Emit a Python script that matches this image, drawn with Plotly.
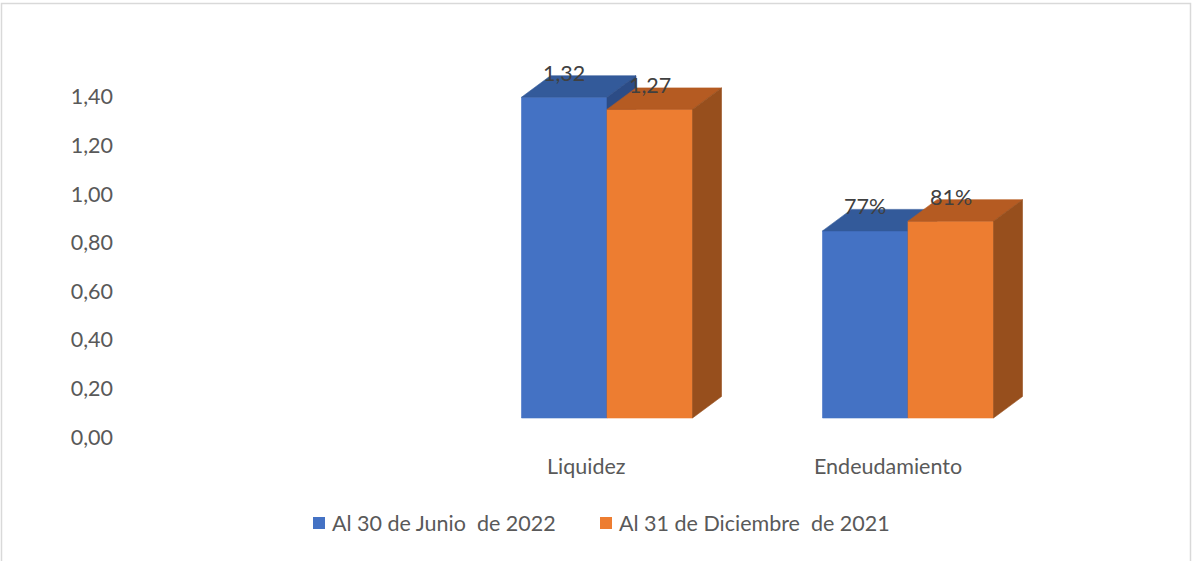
import plotly.graph_objects as go

# data
categories = ["Liquidez", "Endeudamiento"]
series_names = ["Al 30 de Junio\u00a0 de 2022", "Al 31 de Diciembre\u00a0 de 2021"]
junio_2022 = [1.32, 0.77]
diciembre_2021 = [1.27, 0.81]
label_formats = ["{:.2f}", "{:.0%}"]
tick_values = [0.0, 0.2, 0.4, 0.6, 0.8, 1.0, 1.2, 1.4]

# colours: front, top, side
front_colors = ["#4472C4", "#ED7D31"]
top_colors = ["#335A9A", "#B55B22"]
side_colors = ["#2C4C86", "#974F1D"]

# layout geometry (pixels)
FIG_W, FIG_H = 1193, 561
M_L, M_R, M_T, M_B = 130, 130, 40, 91
PX_PER_UNIT = 243.0      # vertical pixels per value unit
ZERO_PX = 418            # pixel row of the front floor
PX_PER_CAT = 301.0       # pixels between categories
FIRST_CAT_PX = 607       # pixel column of first category centre
LIFT = 19 / PX_PER_UNIT  # axis labels sit lower than the bar floor
FONT = "Lato"
FS = 21.5

BAR_W = 85.5 / PX_PER_CAT
DX = 29 / PX_PER_CAT
DY = 21.5 / PX_PER_UNIT

plot_w = FIG_W - M_L - M_R
plot_h = FIG_H - M_T - M_B
x_lo = 1 - (FIRST_CAT_PX - M_L) / PX_PER_CAT
x_hi = x_lo + plot_w / PX_PER_CAT
y_lo = -(FIG_H - M_B - ZERO_PX) / PX_PER_UNIT
y_hi = (ZERO_PX - M_T) / PX_PER_UNIT


def px_x(px):
    return (px - M_L) / plot_w


def px_y(py):
    return (FIG_H - M_B - py) / plot_h


def fmt(v, f):
    return f.format(v).replace(".", ",")


def poly(fig, xs, ys, color):
    fig.add_trace(go.Scatter(x=xs + [xs[0]], y=ys + [ys[0]], mode="lines", fill="toself",
                             fillcolor=color, line=dict(color=color, width=0.6),
                             hoverinfo="skip", showlegend=False))


fig = go.Figure()
annotations = []
shapes = []
series = [junio_2022, diciembre_2021]

for ci, cat in enumerate(categories):
    pos = 1 + ci
    for si, vals in enumerate(series):
        v = vals[ci]
        x0 = pos - BAR_W + si * BAR_W
        x1 = x0 + BAR_W
        poly(fig, [x0, x1, x1, x0], [0, 0, v, v], front_colors[si])
        poly(fig, [x0, x1, x1 + DX, x0 + DX], [v, v, v + DY, v + DY], top_colors[si])
        poly(fig, [x1, x1 + DX, x1 + DX, x1], [0, DY, v + DY, v], side_colors[si])
        annotations.append(dict(x=(x0 + x1) / 2, y=v + DY + 3 / PX_PER_UNIT, xref="x", yref="y",
                                text=fmt(v, label_formats[ci]), showarrow=False,
                                font=dict(size=FS, color="#404040")))
    annotations.append(dict(x=pos - 0.068, y=-48 / PX_PER_UNIT, xref="x", yref="y", text=cat,
                            showarrow=False, font=dict(size=FS, color="#595959")))

# legend drawn by hand (Excel style: small square close to the text)
legend_px = [313, 600]
for si, name in enumerate(series_names):
    lx = legend_px[si]
    shapes.append(dict(type="rect", xref="paper", yref="paper",
                       x0=px_x(lx), x1=px_x(lx + 12), y0=px_y(529), y1=px_y(517),
                       fillcolor=front_colors[si], line=dict(width=0)))
    annotations.append(dict(x=px_x(lx + 17), y=px_y(523), xref="paper", yref="paper",
                            xanchor="left", yanchor="middle", text=name, showarrow=False,
                            font=dict(size=FS, color="#595959")))

# dummy trace to hold the labelled value axis
fig.add_trace(go.Scatter(x=[None], y=[None], yaxis="y2", showlegend=False, hoverinfo="skip"))

# chart border
shapes.append(dict(type="rect", xref="paper", yref="paper", layer="below",
                   x0=px_x(1.5), x1=px_x(1190.5), y0=px_y(FIG_H + 5), y1=px_y(3.5),
                   line=dict(color="#D9D9D9", width=1.5)))

fig.update_layout(
    width=FIG_W, height=FIG_H,
    margin=dict(l=M_L, r=M_R, t=M_T, b=M_B),
    paper_bgcolor="white", plot_bgcolor="white",
    font=dict(family=FONT, size=FS, color="#595959"),
    showlegend=False,
    xaxis=dict(range=[x_lo, x_hi], visible=False),
    yaxis=dict(range=[y_lo, y_hi], visible=False),
    yaxis2=dict(range=[y_lo + LIFT, y_hi + LIFT], overlaying="y", side="left",
                tickvals=tick_values, ticktext=[fmt(t, "{:.2f}") for t in tick_values],
                showgrid=False, zeroline=False, showline=False, ticks="",
                ticklabelstandoff=16, tickfont=dict(size=FS, color="#595959")),
    annotations=annotations,
    shapes=shapes,
    hovermode=False,
)

fig.write_html("out.html", config={"displayModeBar": False, "staticPlot": True},
               post_script="document.body.style.margin='0';document.body.style.overflow='hidden';")
